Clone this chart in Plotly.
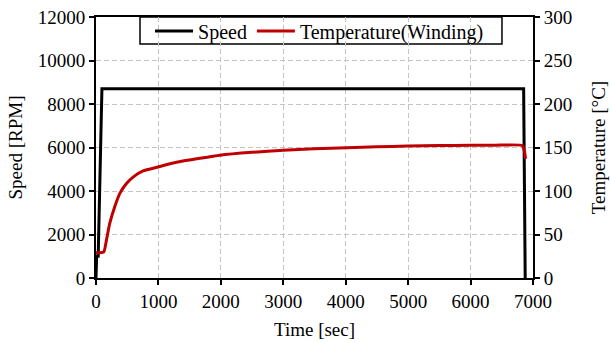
import plotly.graph_objects as go

# Motor speed profile (sec, RPM)
speed_time = [0, 10, 35, 95, 6850, 6875]
speed_rpm = [0, 1000, 1000, 8700, 8700, 0]

# Winding temperature (sec, degC)
temp_time = [0, 60, 125, 167, 220, 300, 380, 488, 594, 754, 995, 1290, 1665,
             1985, 2500, 3000, 3500, 4020, 4500, 4982, 5500, 6000, 6400, 6828,
             6865, 6880]
temp_c = [29, 29, 30, 43.6, 62.7, 81.8, 97, 108.6, 116, 123, 127.6, 133.0, 137.6,
          141.2, 144.5, 146.8, 148.5, 149.8, 150.8, 151.7, 152.2, 152.5, 152.6, 152.2,
          145, 137]

FONT = "Liberation Serif"
GRID = "#c4c4c4"

fig = go.Figure()
fig.add_trace(go.Scatter(
    x=temp_time, y=temp_c, name="Temperature(Winding)", yaxis="y2",
    mode="lines", line=dict(color="#c00000", width=3, shape="spline", smoothing=0.5),
    legendrank=2,
))
fig.add_trace(go.Scatter(
    x=speed_time, y=speed_rpm, name="Speed", yaxis="y",
    mode="lines", line=dict(color="black", width=3), legendrank=1,
))

axis_common = dict(
    showline=True, linecolor="black", linewidth=2,
    ticks="outside", ticklen=5, tickwidth=2, tickcolor="black",
    tickfont=dict(family=FONT, size=19, color="black"),
    zeroline=False, automargin=False, tickformat="d",
)

# framed white panel behind the legend entries
fig.add_shape(
    type="rect", xref="paper", yref="paper",
    x0=0.1007, x1=0.929, y0=0.8966, y1=1.0,
    line=dict(color="black", width=1.5), fillcolor="white", layer="between",
)

fig.update_layout(
    width=610, height=342,
    margin=dict(l=96, r=77, t=17, b=64),
    paper_bgcolor="white", plot_bgcolor="white",
    font=dict(family=FONT, size=19, color="black"),
    showlegend=True,
    legend=dict(
        orientation="h", x=0.1236, xanchor="left", y=0.946, yanchor="middle",
        bgcolor="rgba(0,0,0,0)", borderwidth=0,
        font=dict(family=FONT, size=20, color="black"),
        tracegroupgap=0, itemwidth=38,
    ),
    xaxis=dict(
        range=[0, 7000], dtick=1000, tick0=0,
        mirror=True, showgrid=True, gridcolor=GRID, griddash="5px,3px", gridwidth=1,
        title=dict(text="Time [sec]", font=dict(family=FONT, size=19), standoff=12),
        **axis_common,
    ),
    yaxis=dict(
        range=[0, 12000], dtick=2000, tick0=0,
        mirror=True, showgrid=True, gridcolor=GRID, griddash="5px,3px", gridwidth=1,
        title=dict(text="Speed [RPM]", font=dict(family=FONT, size=19), standoff=10),
        **axis_common,
    ),
    yaxis2=dict(
        range=[0, 300], dtick=50, tick0=0, overlaying="y", side="right",
        showgrid=False,
        title=dict(text="Temperature [°C]", font=dict(family=FONT, size=19), standoff=20),
        **axis_common,
    ),
)

fig.write_html("out.html")
